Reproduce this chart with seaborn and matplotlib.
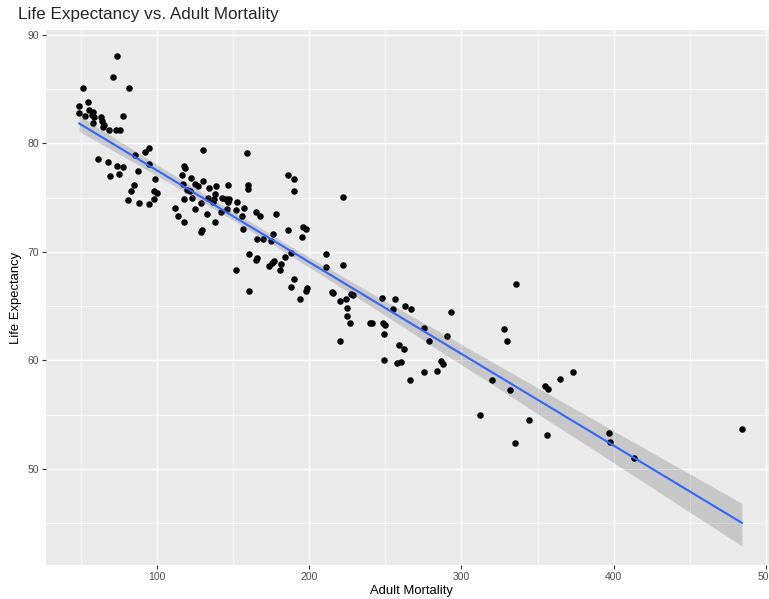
import pandas as pd
import matplotlib.pyplot as plt
from matplotlib.ticker import MultipleLocator
import seaborn as sns

# Points
adult_mortality = [
    73.7, 71.0, 51.7, 81.9, 55.0, 48.9, 55.4, 49.1, 58.2, 52.8, 57.2, 58.9, 78.0, 63.3,
    63.9, 58.2, 65.5, 64.8, 68.5, 72.9, 75.8, 61.1, 67.9, 74.0, 78.0, 87.8, 69.0, 74.9,
    85.8, 92.0, 95.0, 95.0, 99.0, 85.0, 83.0, 98.3, 99.9, 98.3, 80.8, 88.0, 94.8,
    130.1, 159.0, 117.8, 118.6, 116.3, 122.2, 130.1, 125.0, 126.8, 117.0, 146.9, 139.0,
    134.0, 159.6, 159.8, 185.9, 190.0, 190.0, 119.6, 121.7, 138.1, 142.5, 145.4, 147.5,
    146.5, 137.5, 117.8, 122.8, 133.4, 152.8, 111.9, 125.0, 129.2, 137.0, 141.9, 145.8,
    151.9, 157.2, 114.1, 133.1, 118.0, 138.0, 129.4, 128.8, 155.7, 165.1, 167.9, 178.0,
    156.7, 185.9, 196.1, 197.9, 195.1, 176.0, 165.9, 169.9, 174.7, 160.7, 165.1, 165.9,
    184.1, 188.0, 176.9, 175.8, 173.8, 181.7, 180.8, 151.9, 190.0, 187.8, 198.4, 197.7,
    194.0, 160.7,
    211.0, 210.8, 222.0, 215.0, 215.4, 220.2, 224.0, 227.3, 229.0, 225.0, 225.0, 227.0,
    220.0, 222.0,
    335.8, 248.0, 256.1, 263.1, 266.9, 255.2, 293.1, 239.9, 241.1, 248.7, 249.8, 248.9,
    275.4, 290.7, 278.9, 258.8, 262.1, 248.9, 257.9, 260.1, 286.7, 288.1, 275.2, 284.1,
    266.0, 320.2, 332.0, 328.1, 330.1, 312.2, 334.9,
    344.1, 356.1, 355.0, 357.0, 364.9, 373.2, 397.0, 397.3, 413.1, 484.2,
]
life_expectancy = [
    88.1, 86.1, 85.1, 85.1, 83.8, 83.5, 83.1, 82.8, 82.9, 82.5, 82.6, 82.4, 82.5, 82.4,
    82.1, 81.9, 81.7, 81.5, 81.2, 81.2, 81.2, 78.6, 78.3, 77.9, 77.8, 77.5, 77.0, 77.2,
    78.9, 79.2, 79.6, 78.1, 76.7, 76.2, 75.6, 75.6, 75.4, 74.9, 74.8, 74.5, 74.4,
    79.4, 79.1, 77.9, 77.7, 77.1, 76.8, 76.5, 76.3, 76.1, 76.3, 76.2, 76.1,
    75.9, 76.2, 75.8, 77.1, 76.7, 75.6, 75.7, 75.6, 75.3, 75.0, 74.9, 74.9,
    74.6, 74.9, 74.9, 75.0, 75.0, 74.6, 74.1, 74.0, 74.5, 74.6, 73.7, 74.0,
    73.9, 74.1, 73.3, 73.5, 72.8, 72.8, 72.0, 71.8, 73.3, 73.7, 73.3, 73.5,
    72.1, 72.0, 72.3, 72.1, 71.4, 71.7, 71.2, 71.2, 71.0, 69.8, 69.3, 69.4,
    69.5, 69.9, 69.2, 69.0, 68.7, 68.9, 68.3, 68.3, 67.5, 66.8, 66.7, 66.4,
    65.7, 66.4,
    69.8, 68.6, 68.8, 66.3, 66.2, 65.5, 65.7, 66.1, 66.0, 64.8, 64.1, 63.5,
    61.8, 75.1,
    67.05, 65.8, 65.7, 65.05, 64.75, 64.75, 64.5, 63.5, 63.5, 63.5, 63.3, 62.4,
    63.0, 62.3, 61.8, 61.4, 61.1, 60.05, 59.8, 59.9, 59.95, 59.65, 58.95, 59.0,
    58.2, 58.2, 57.3, 62.9, 61.8, 55.0, 52.4,
    54.5, 53.1, 57.65, 57.35, 58.3, 58.95, 53.3, 52.5, 51.0, 53.7,
]

df = pd.DataFrame({"Adult Mortality": adult_mortality, "Life Expectancy": life_expectancy})

sns.set_style("darkgrid", {"axes.facecolor": "#EBEBEB", "grid.color": "white"})
plt.rcParams["font.family"] = ["Liberation Sans", "DejaVu Sans"]

fig = plt.figure(figsize=(7.69, 5.99), dpi=100)
ax = fig.add_axes([46 / 769, 34 / 599, 730 / 769, 535 / 599])

# points first, then the grey 95% band, then the blue fit line on top
sns.scatterplot(data=df, x="Adult Mortality", y="Life Expectancy", ax=ax,
                color="black", s=22, linewidth=0)
sns.regplot(data=df, x="Adult Mortality", y="Life Expectancy", ax=ax, scatter=False,
            color="black", line_kws={"linewidth": 0})
sns.regplot(data=df, x="Adult Mortality", y="Life Expectancy", ax=ax, scatter=False,
            ci=None, line_kws={"color": "#3366FF", "linewidth": 1.5})

ax.set_xlim(27.2, 506.5)
ax.set_ylim(41.15, 90.46)
ax.xaxis.set_major_locator(MultipleLocator(100))
ax.xaxis.set_minor_locator(MultipleLocator(50))
ax.yaxis.set_major_locator(MultipleLocator(10))
ax.yaxis.set_minor_locator(MultipleLocator(5))
ax.grid(which="major", color="white", linewidth=1.0)
ax.grid(which="minor", color="white", linewidth=0.5)
ax.set_axisbelow(True)
for s in ax.spines.values():
    s.set_visible(False)
ax.tick_params(which="major", length=3, width=0.8, color="#333333",
               labelsize=7.5, labelcolor="#4D4D4D", pad=2, bottom=True, left=True)
ax.tick_params(which="minor", length=0)

ax.set_xlabel("Adult Mortality", fontsize=9.4, color="black", labelpad=2)
ax.set_ylabel("Life Expectancy", fontsize=9.4, color="black", labelpad=4)
fig.text(18 / 769, 1 - 15 / 599, "Life Expectancy vs. Adult Mortality",
         fontsize=12.3, ha="left", va="center")

plt.savefig("out.png", dpi=100)
